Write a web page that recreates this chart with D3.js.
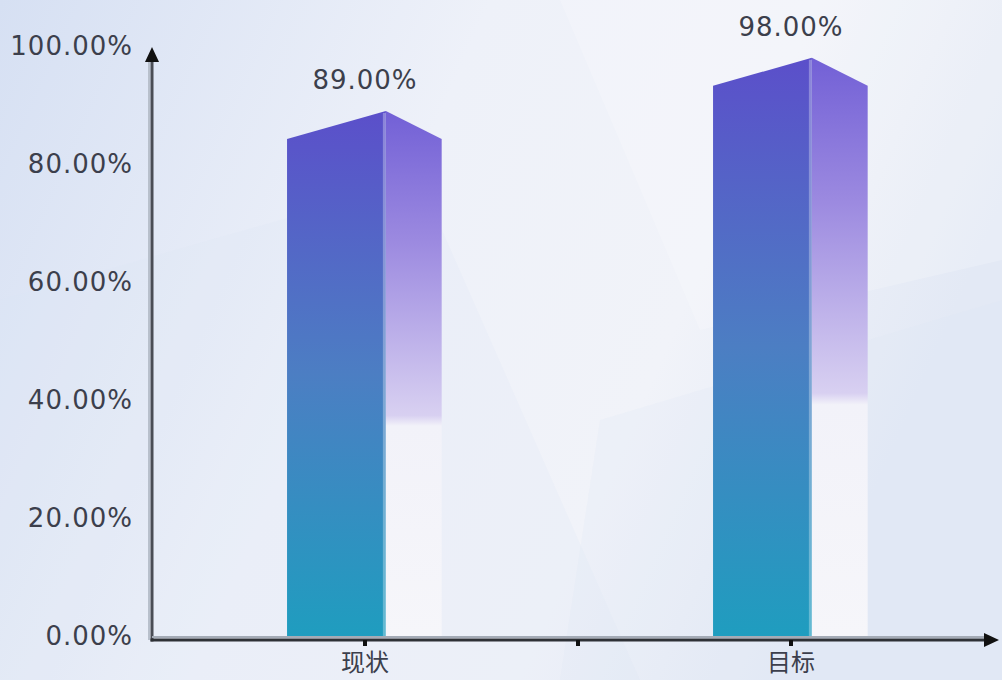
<!DOCTYPE html>
<html>
<head>
<meta charset="utf-8">
<script src="https://cdn.jsdelivr.net/npm/d3@7"></script>
<style>
  html, body { margin: 0; padding: 0; overflow: hidden; }
  body { width: 1002px; height: 680px; }
  text { font-family: "DejaVu Sans", sans-serif; }
</style>
</head>
<body>
<div id="chart"></div>
<script>
// chart data
let categories = ["现状", "目标"];
let values = [89, 98];
let yTicks = [0, 20, 40, 60, 80, 100];

let width = 1002;
let height = 680;

let svg = d3
  .select("#chart")
  .append("svg")
  .attr("width", width)
  .attr("height", height);

let defs = svg.append("defs");

// background
let bg = defs.append("linearGradient").attr("id", "bgGrad")
  .attr("x1", 0).attr("y1", 0).attr("x2", 1).attr("y2", 0.3);
bg.append("stop").attr("offset", "0%").attr("stop-color", "#d6e0f3");
bg.append("stop").attr("offset", "45%").attr("stop-color", "#eef1f9");
bg.append("stop").attr("offset", "75%").attr("stop-color", "#f1f3f9");
bg.append("stop").attr("offset", "100%").attr("stop-color", "#e3e9f5");

svg.append("rect")
  .attr("width", width)
  .attr("height", height)
  .attr("fill", "url(#bgGrad)");

// soft shapes in background
let shapes = [
  [[0, 300], [420, 180], [640, 680], [0, 680]],
  [[560, 0], [1002, 0], [1002, 260], [700, 330]],
  [[600, 420], [1002, 300], [1002, 680], [560, 680]]
];
svg.selectAll("polygon.bgShape")
  .data(shapes)
  .enter()
  .append("polygon")
  .attr("class", "bgShape")
  .attr("points", function(d) { return d.map(function(p) { return p.join(","); }).join(" "); })
  .attr("fill", function(d, i) { return i === 1 ? "#ffffff" : "#dde5f3"; })
  .attr("opacity", 0.2);

// gradients for bars
let front = defs.append("linearGradient").attr("id", "frontGrad")
  .attr("x1", 0).attr("y1", 0).attr("x2", 0).attr("y2", 1);
front.append("stop").attr("offset", "0%").attr("stop-color", "#5b4fca");
front.append("stop").attr("offset", "50%").attr("stop-color", "#4c7ec3");
front.append("stop").attr("offset", "100%").attr("stop-color", "#1f9dbf");

let side = defs.append("linearGradient").attr("id", "sideGrad")
  .attr("x1", 0).attr("y1", 0).attr("x2", 0).attr("y2", 1);
side.append("stop").attr("offset", "0%").attr("stop-color", "#7260d6");
side.append("stop").attr("offset", "25%").attr("stop-color", "#9c8ae0");
side.append("stop").attr("offset", "58%").attr("stop-color", "#d8d0f1");
side.append("stop").attr("offset", "60%").attr("stop-color", "#f2f2f9");
side.append("stop").attr("offset", "100%").attr("stop-color", "#f6f6fa");

// scales
let xScale = d3.scaleBand()
  .domain(categories)
  .range([152, 1004]);

let yScale = d3.scaleLinear()
  .domain([0, 100])
  .range([636, 46]);

let bw = xScale.bandwidth();
let frontW = bw * 0.232;
let sideW = bw * 0.131;
let leftOff = bw * 0.183;
let drop = 28;

function cx(d, i) {
  return xScale(categories[i]) + bw / 2;
}

let bars = svg.selectAll("g.bar")
  .data(values)
  .enter()
  .append("g")
  .attr("class", "bar");

// front face
bars.append("polygon")
  .attr("points", function(d, i) {
    let c = cx(d, i);
    let x0 = c - leftOff;
    let x1 = x0 + frontW;
    let top = yScale(d);
    return [[x0, top + drop], [x1, top], [x1, yScale(0)], [x0, yScale(0)]]
      .map(function(p) { return p.join(","); }).join(" ");
  })
  .attr("fill", "url(#frontGrad)");

// side face
bars.append("polygon")
  .attr("points", function(d, i) {
    let c = cx(d, i);
    let x1 = c - leftOff + frontW;
    let x2 = x1 + sideW;
    let top = yScale(d);
    return [[x1, top], [x2, top + drop], [x2, yScale(0)], [x1, yScale(0)]]
      .map(function(p) { return p.join(","); }).join(" ");
  })
  .attr("fill", "url(#sideGrad)");

// light edge between faces
bars.append("line")
  .attr("x1", function(d, i) { return cx(d, i) - leftOff + frontW - 1.5; })
  .attr("x2", function(d, i) { return cx(d, i) - leftOff + frontW - 1.5; })
  .attr("y1", function(d) { return yScale(d) + 2; })
  .attr("y2", yScale(0))
  .attr("stroke", "#ffffff")
  .attr("stroke-opacity", 0.3)
  .attr("stroke-width", 3);

// value labels
bars.append("text")
  .attr("x", function(d, i) { return cx(d, i); })
  .attr("y", function(d) { return yScale(d) - 31; })
  .attr("text-anchor", "middle")
  .attr("dominant-baseline", "central")
  .attr("font-size", 26)
  .attr("letter-spacing", 1)
  .attr("fill", "#3c3f4c")
  .text(function(d) { return d.toFixed(2) + "%"; });

// y axis labels
svg.selectAll("text.yLabel")
  .data(yTicks)
  .enter()
  .append("text")
  .attr("class", "yLabel")
  .attr("x", 133)
  .attr("y", function(d) { return yScale(d); })
  .attr("text-anchor", "end")
  .attr("dominant-baseline", "central")
  .attr("font-size", 26)
  .attr("letter-spacing", 1)
  .attr("fill", "#3c3f4c")
  .text(function(d) { return d.toFixed(2) + "%"; });

// axes lines
let axisY = 640;
let axisX = 152;

svg.append("line")
  .attr("x1", axisX - 3).attr("x2", axisX - 3)
  .attr("y1", 60).attr("y2", axisY)
  .attr("stroke", "#b8c0cc").attr("stroke-width", 2);
svg.append("line")
  .attr("x1", axisX).attr("x2", axisX)
  .attr("y1", 58).attr("y2", axisY + 1.5)
  .attr("stroke", "#4a4d55").attr("stroke-width", 3);

svg.append("line")
  .attr("x1", axisX).attr("x2", 988)
  .attr("y1", axisY - 3).attr("y2", axisY - 3)
  .attr("stroke", "#a4abb6").attr("stroke-width", 2);
svg.append("line")
  .attr("x1", axisX - 1.5).attr("x2", 988)
  .attr("y1", axisY).attr("y2", axisY)
  .attr("stroke", "#2e3136").attr("stroke-width", 3);

// arrows
svg.append("polygon")
  .attr("points", [[axisX, 47], [axisX - 7, 62], [axisX + 7, 62]].map(function(p) { return p.join(","); }).join(" "))
  .attr("fill", "#111");
svg.append("polygon")
  .attr("points", [[999, axisY], [984, axisY - 7], [984, axisY + 7]].map(function(p) { return p.join(","); }).join(" "))
  .attr("fill", "#111");

// x ticks at category centres and band boundary
let tickXs = categories.map(function(c) { return xScale(c) + bw / 2; });
tickXs.push(xScale(categories[1]));
svg.selectAll("line.xTick")
  .data(tickXs)
  .enter()
  .append("line")
  .attr("class", "xTick")
  .attr("x1", function(d) { return d; })
  .attr("x2", function(d) { return d; })
  .attr("y1", axisY)
  .attr("y2", axisY + 6)
  .attr("stroke", "#111")
  .attr("stroke-width", 4);

// x labels
svg.selectAll("text.xLabel")
  .data(categories)
  .enter()
  .append("text")
  .attr("class", "xLabel")
  .attr("x", function(d) { return xScale(d) + bw / 2; })
  .attr("y", 671)
  .attr("text-anchor", "middle")
  .attr("font-size", 24)
  .style("font-family", "'Noto Sans CJK SC', sans-serif")
  .attr("fill", "#3c3f4c")
  .text(function(d) { return d; });
</script>
</body>
</html>
